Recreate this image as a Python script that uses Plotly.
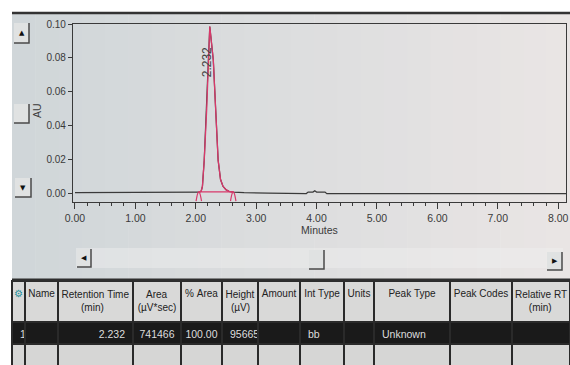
import plotly.graph_objects as go

# ---------------- data ----------------
rt_min = [0.00, 0.50, 1.00, 1.50, 1.90, 2.06, 2.09, 2.11, 2.14, 2.18, 2.21, 2.232,
          2.26, 2.29, 2.33, 2.37, 2.41, 2.45, 2.50, 2.55, 2.62, 2.80, 3.20, 3.60,
          3.83, 3.86, 3.94, 3.97, 4.00, 4.14, 4.17, 4.50, 5.00, 6.00, 7.00, 8.13]
signal_au = [0.0003, 0.0003, 0.0003, 0.0003, 0.0004, 0.0005, 0.0012, 0.0040, 0.0195,
             0.0490, 0.0800, 0.0985, 0.0890, 0.0787, 0.0490, 0.0195, 0.0080, 0.0040,
             0.0020, 0.0010, 0.0005, 0.0002, 0.0000, -0.0002, -0.0003, 0.0006, 0.0006,
             0.0014, 0.0006, 0.0006, -0.0004, -0.0004, -0.0004, -0.0004, -0.0004, -0.0004]
peak_start, peak_end = 2.05, 2.62
peak_rt_label = "2.232"

x_ticks = [0, 1, 2, 3, 4, 5, 6, 7, 8]
y_ticks = [0.00, 0.02, 0.04, 0.06, 0.08, 0.10]

NB = "\u00a0"
header_labels = ["⚙", "Name",
                 f"Retention{NB}Time<br>{NB * 7}(min)",
                 f"{NB * 3}Area<br>(µV*sec)",
                 f"%{NB}Area",
                 f"Height<br>{NB * 2}(µV)",
                 "Amount", f"Int{NB}Type", "Units", f"Peak{NB}Type",
                 f"Peak{NB}Codes",
                 f"Relative{NB}RT<br>{NB * 5}(min)"]
col_index = ["1", ""]
col_name = ["", ""]
col_retention = ["2.232", ""]
col_area = ["741466", ""]
col_pct_area = ["100.00", ""]
col_height = ["95665", ""]
col_amount = ["", ""]
col_int_type = ["bb", ""]
col_units = ["", ""]
col_peak_type = ["Unknown", ""]
col_peak_codes = ["", ""]
col_rel_rt = ["", ""]

# ---------------- helpers ----------------
W, H = 570, 365
def px(x): return x / W
def py(y): return 1 - y / H

PINK = "#d8386a"
DARK = "#3a3a3a"
FONT = "Liberation Sans Narrow, Liberation Sans, Arial, sans-serif"

fig = go.Figure()

# full chromatogram (dark)
fig.add_trace(go.Scatter(x=rt_min, y=signal_au, mode="lines",
                         line=dict(color=DARK, width=1.2), hoverinfo="skip"))
# integrated peak (pink)
pk_x = [t for t in rt_min if peak_start <= t <= peak_end]
pk_y = [v for t, v in zip(rt_min, signal_au) if peak_start <= t <= peak_end]
fig.add_trace(go.Scatter(x=pk_x, y=pk_y, mode="lines",
                         line=dict(color=PINK, width=1.3), hoverinfo="skip"))
# baseline
fig.add_trace(go.Scatter(x=[peak_start, peak_end], y=[0.0007, 0.0007], mode="lines",
                         line=dict(color=PINK, width=1.2), hoverinfo="skip"))
# baseline start/end markers
for t in (peak_start, peak_end):
    fig.add_trace(go.Scatter(x=[t - 0.045, t - 0.02, t, t + 0.02, t + 0.045],
                             y=[-0.0048, -0.0005, 0.0009, -0.0005, -0.0048],
                             mode="lines", line=dict(color=PINK, width=1.2),
                             line_shape="spline", hoverinfo="skip"))

# table
cols = [col_index, col_name, col_retention, col_area, col_pct_area, col_height,
        col_amount, col_int_type, col_units, col_peak_type, col_peak_codes, col_rel_rt]
ncol = len(cols)
fig.add_trace(go.Table(
    domain=dict(x=[px(12), 1], y=[0, py(281)]),
    columnwidth=[13, 33, 75, 48, 41, 36, 42, 44, 30, 76, 62, 58],
    header=dict(values=header_labels, height=41,
                fill_color="#d9d9d8", line=dict(color="#2a2a2a", width=1.5),
                align="center",
                font=dict(family=FONT, size=10,
                          color=["#1f8f9a"] + ["#222222"] * 11)),
    cells=dict(values=cols, height=22,
               fill_color=[["#1a1a1a", "#d6d6d5"]] * ncol,
               line=dict(color="#2a2a2a", width=1.5),
               align=["left", "left", "right", "center", "center", "left",
                      "center", "left", "center", "left", "center", "center"],
               font=dict(family=FONT, size=10.5, color=[["#dddddd", "#222222"]] * ncol)),
))

shapes = []
# screen background: subtle left-to-right photo gradient
c0, c1 = (208, 214, 217), (233, 229, 228)
nb = 24
for i in range(nb):
    f = i / (nb - 1)
    col = tuple(round(a + (b - a) * f) for a, b in zip(c0, c1))
    xa = 12 + (W - 12) * i / nb
    xb = 12 + (W - 12) * (i + 1) / nb + 0.5
    shapes.append(dict(type="rect", xref="paper", yref="paper", x0=px(xa), x1=min(px(xb), 1),
                       y0=0, y1=py(12), fillcolor=f"rgb{col}", line_width=0, layer="below"))
shapes.append(dict(type="line", xref="paper", yref="paper", x0=px(12), x1=1,
                   y0=py(13), y1=py(13), line=dict(color="#333333", width=2.5)))
# scroll track
shapes.append(dict(type="rect", xref="paper", yref="paper", x0=px(76), x1=px(563),
                   y0=py(268), y1=py(248), fillcolor="rgba(240,240,240,0.45)",
                   line_width=0, layer="below"))
# table top border
shapes.append(dict(type="line", xref="paper", yref="paper", x0=px(12), x1=1,
                   y0=py(280), y1=py(280), line=dict(color="#2e2e2e", width=3)))

annotations = []
def button(x0, y0, x1, y1, glyph=None):
    shapes.append(dict(type="rect", xref="paper", yref="paper", x0=px(x0), x1=px(x1),
                       y0=py(y1), y1=py(y0), fillcolor="#e0e2e2", line_width=0))
    shapes.append(dict(type="path", xref="paper", yref="paper",
                       path=f"M {px(x1)} {py(y0)} L {px(x1)} {py(y1)} L {px(x0)} {py(y1)}",
                       line=dict(color="#4a4a4a", width=1.5)))
    if glyph:
        annotations.append(dict(xref="paper", yref="paper", x=px((x0 + x1) / 2),
                                y=py((y0 + y1) / 2), text=glyph, showarrow=False,
                                xanchor="center", yanchor="middle",
                                font=dict(family="DejaVu Sans", size=7, color="#111111")))

button(14, 23, 29, 43, "▲")
button(14, 104, 29, 123)
button(15, 178, 31, 197, "▼")
button(77, 249, 91, 267, "◀")
button(309, 250, 324, 269)
button(547, 252, 562, 270, "▶")

annotations.append(dict(x=2.19, y=0.0775, xref="x", yref="y", text=peak_rt_label,
                        textangle=-90, showarrow=False,
                        font=dict(family=FONT, size=12, color="#444444")))
annotations.append(dict(x=px(37), y=py(110), xref="paper", yref="paper", text="AU",
                        textangle=-90, showarrow=False, xanchor="center", yanchor="middle",
                        font=dict(family=FONT, size=10.5, color=DARK)))

fig.update_layout(
    width=W, height=H, autosize=False,
    margin=dict(l=0, r=0, t=0, b=0, pad=0, autoexpand=False),
    paper_bgcolor="#ffffff", plot_bgcolor="#dfe2e3",
    showlegend=False, shapes=shapes, annotations=annotations,
    font=dict(family=FONT, size=11, color=DARK),
    xaxis=dict(domain=[px(73), px(566)], range=[-0.033, 8.13], automargin=False,
               tickvals=x_ticks, ticktext=[f"{v:.2f}" for v in x_ticks],
               ticks="outside", ticklen=6, tickcolor=DARK,
               minor=dict(dtick=0.2, tick0=0, ticks="outside", ticklen=3, tickcolor=DARK),
               showline=True, linecolor=DARK, linewidth=1.2, mirror=True,
               showgrid=False, zeroline=False,
               title=dict(text="Minutes", standoff=2, font=dict(size=10.5)),
               tickfont=dict(size=10.5)),
    yaxis=dict(domain=[py(202), py(24)], range=[-0.0053, 0.100], automargin=False,
               tickvals=y_ticks, ticktext=[f"{v:.2f}" for v in y_ticks],
               ticks="outside", ticklen=4, tickcolor=DARK,
               showline=True, linecolor=DARK, linewidth=1.2, mirror=True,
               showgrid=False, zeroline=False,
               tickfont=dict(size=10)),
)

fig.write_html("out.html", post_script="document.body.style.margin='0';")
